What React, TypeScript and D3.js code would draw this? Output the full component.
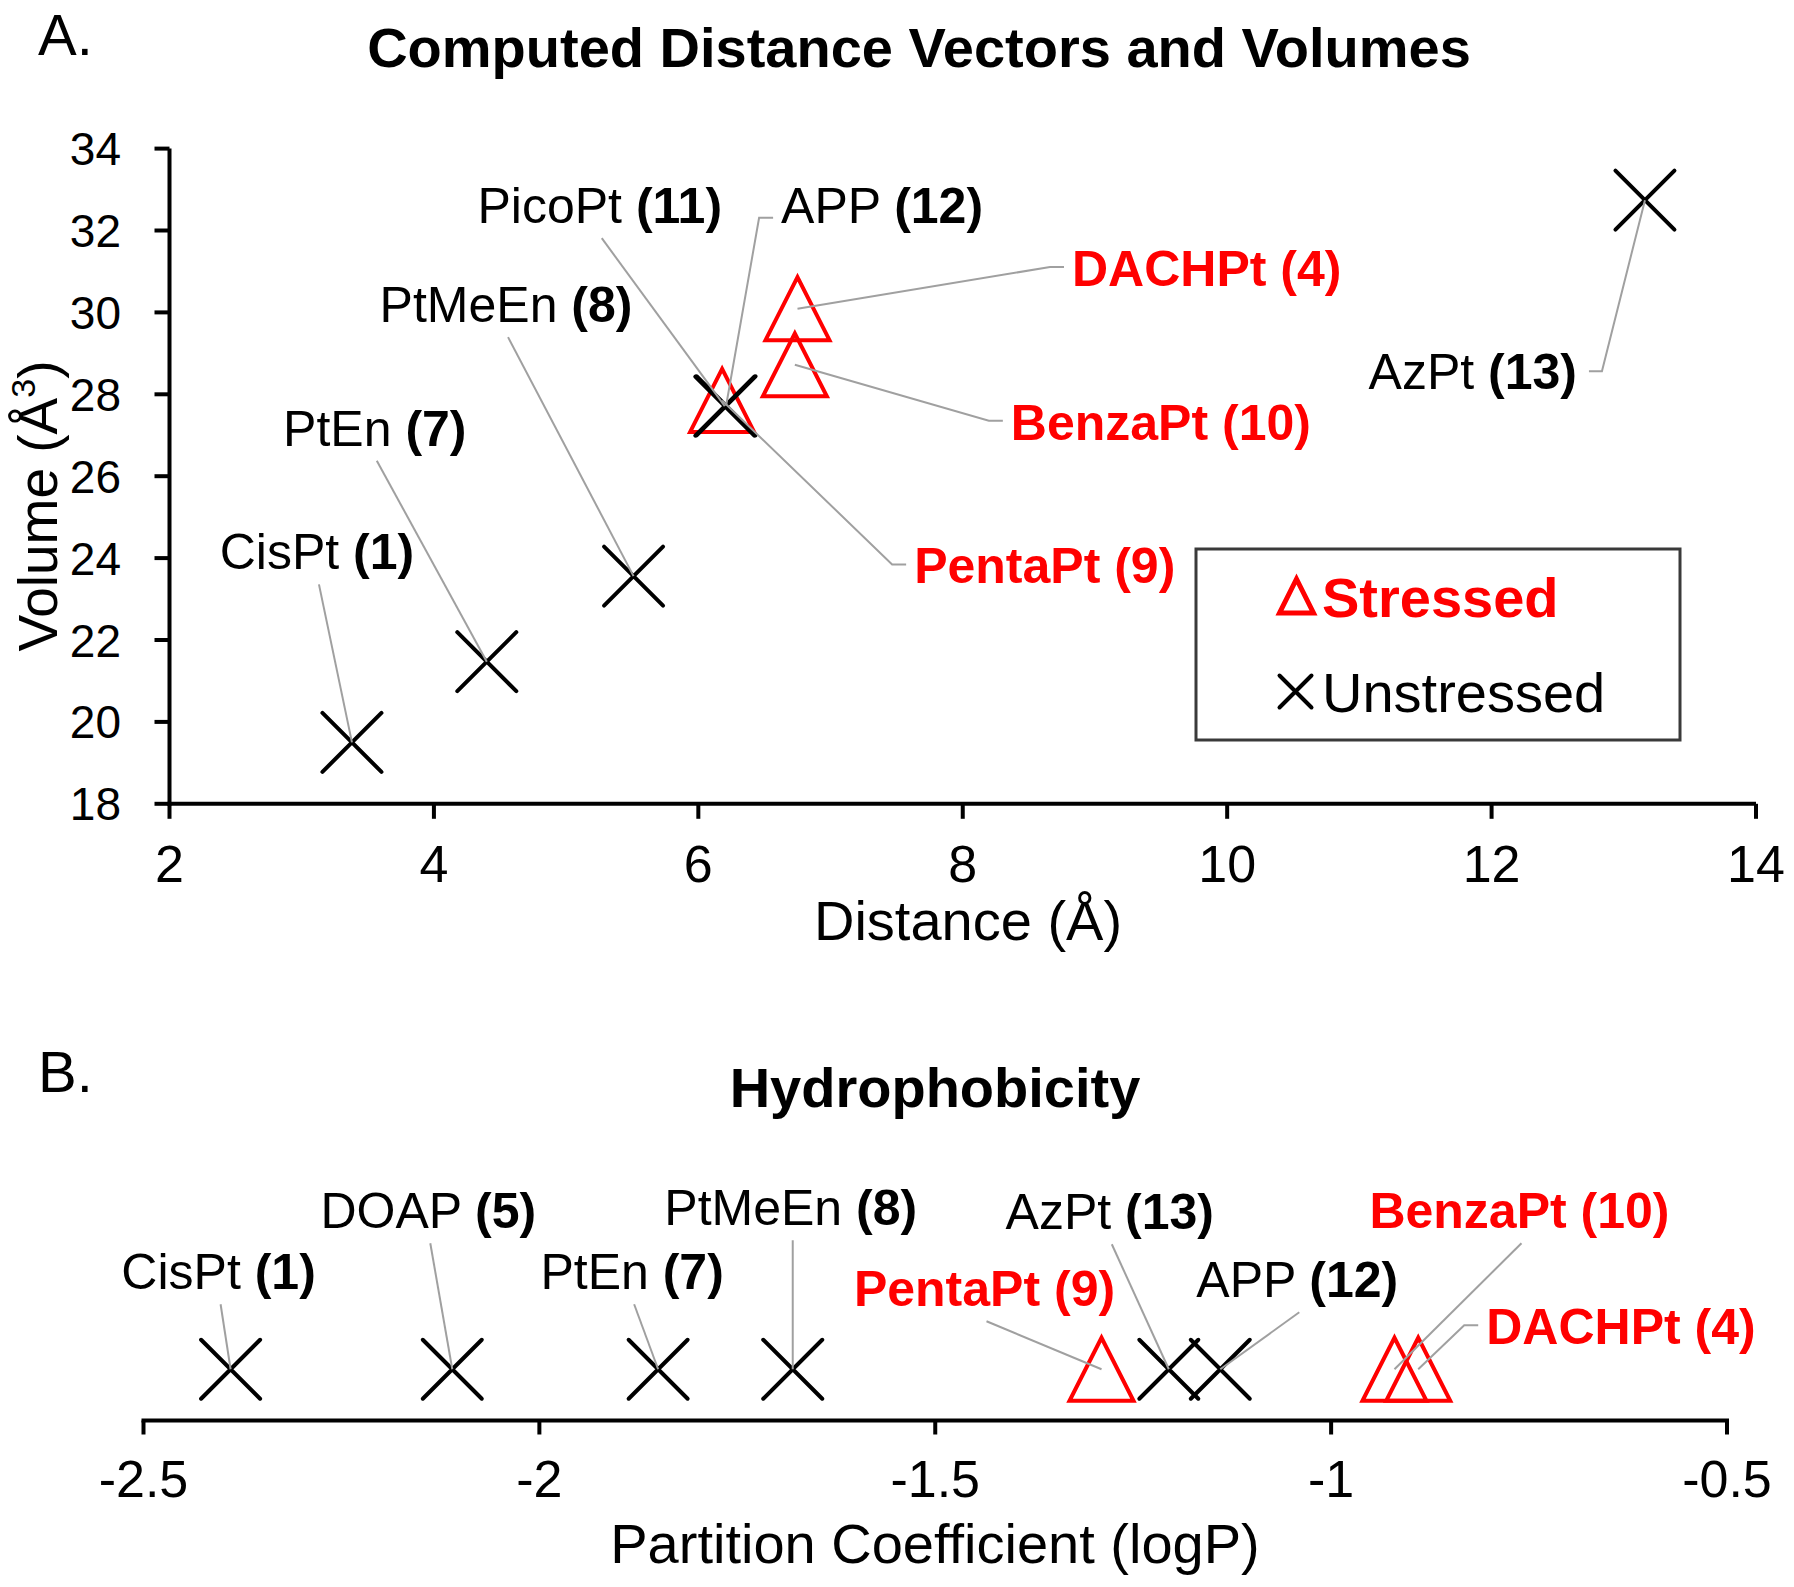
import React from "react";
import * as d3 from "d3";

// ---------- Panel A data ----------
const namesA = ["CisPt", "PtEn", "PtMeEn", "PicoPt", "APP", "PentaPt", "DACHPt", "BenzaPt", "AzPt"];
const numbersA = [1, 7, 8, 11, 12, 9, 4, 10, 13];
const distanceA = [3.38, 4.4, 5.51, 6.2, 6.21, 6.18, 6.75, 6.73, 13.16];
const volumeA = [19.5, 21.47, 23.56, 27.71, 27.72, 27.85, 30.09, 28.72, 32.74];
const stressedA = [false, false, false, false, false, true, true, true, false];
const xTicksA = [2, 4, 6, 8, 10, 12, 14];
const yTicksA = [18, 20, 22, 24, 26, 28, 30, 32, 34];

// ---------- Panel B data ----------
const namesB = ["CisPt", "DOAP", "PtEn", "PtMeEn", "PentaPt", "AzPt", "APP", "BenzaPt", "DACHPt"];
const numbersB = [1, 5, 7, 8, 9, 13, 12, 10, 4];
const logP = [-2.39, -2.11, -1.85, -1.68, -1.29, -1.205, -1.14, -0.92, -0.89];
const stressedB = [false, false, false, false, true, false, false, true, true];
const xTicksB = [-2.5, -2, -1.5, -1, -0.5];

// ---------- label layout (pixel offsets from the point) ----------
type Attach = "bottom" | "left" | "right";
const labelLayoutA: { dx: number; dy: number; attach: Attach; ly?: number }[] = [
  { dx: -35, dy: -173, attach: "bottom" },
  { dx: -112, dy: -216, attach: "bottom" },
  { dx: -127.5, dy: -254, attach: "bottom" },
  { dx: -125, dy: -183, attach: "bottom" },
  { dx: 55, dy: -183, attach: "left", ly: 5 },
  { dx: 192, dy: 183, attach: "left" },
  { dx: 274.5, dy: -22.7, attach: "left" },
  { dx: 216, dy: 75, attach: "left" },
  { dx: -68, dy: 189, attach: "right" },
];
const labelLayoutB: { dx: number; dy: number; attach: Attach; ly?: number }[] = [
  { dx: -12, dy: -80, attach: "bottom" },
  { dx: -24, dy: -141, attach: "bottom" },
  { dx: -26, dy: -80, attach: "bottom" },
  { dx: -2, dy: -144, attach: "bottom" },
  { dx: -117, dy: -63, attach: "bottom" },
  { dx: -59, dy: -140, attach: "bottom" },
  { dx: 77, dy: -72, attach: "bottom" },
  { dx: 125, dy: -141, attach: "bottom" },
  { dx: 68, dy: -25, attach: "left" },
];

const FONT = "'Liberation Sans', Arial, Helvetica, sans-serif";
const RED = "#ff0000";
const LEADER = "#a0a0a0";
const LABEL_FS = 50;

const xPath = (h: number) => `M${-h},${-h}L${h},${h}M${-h},${h}L${h},${-h}`;
const triPath = (w: number, h: number) => `M0,${-h}L${w},${h}L${-w},${h}Z`;

function Marker({ x, y, stressed }: { x: number; y: number; stressed: boolean }) {
  return stressed ? (
    <path d={triPath(32, 31.5)} transform={`translate(${x},${y})`} fill="none" stroke={RED} strokeWidth={4} strokeLinejoin="miter" />
  ) : (
    <path d={xPath(29.5)} transform={`translate(${x},${y})`} fill="none" stroke="#000" strokeWidth={4} strokeLinecap="round" />
  );
}

function Label({
  px, py, name, num, stressed, layout,
}: {
  px: number; py: number; name: string; num: number; stressed: boolean;
  layout: { dx: number; dy: number; attach: Attach; ly?: number };
}) {
  const tx = px + layout.dx;
  const ty = py + layout.dy;
  const anchor = layout.attach === "bottom" ? "middle" : layout.attach === "left" ? "start" : "end";
  const ly = layout.ly ?? 19;
  let pts: [number, number][];
  if (layout.attach === "bottom") {
    pts = [[tx + 2, ty + 15], [px, py]];
  } else if (layout.attach === "left") {
    pts = [[tx - 8, ty - ly], [tx - 22, ty - ly], [px, py]];
  } else {
    pts = [[tx + 12, ty - 18], [tx + 25, ty - 18], [px, py]];
  }
  const line = d3.line()(pts) || "";
  return (
    <g>
      <path d={line} fill="none" stroke={LEADER} strokeWidth={2} />
      <text x={tx} y={ty} textAnchor={anchor} fontSize={LABEL_FS} fill={stressed ? RED : "#000"} fontWeight={stressed ? "bold" : "normal"}>
        <tspan>{name + " "}</tspan>
        <tspan fontWeight="bold">{`(${num})`}</tspan>
      </text>
    </g>
  );
}

export default function App() {
  const xA = d3.scaleLinear().domain([2, 14]).range([169.5, 1756]);
  const yA = d3.scaleLinear().domain([18, 34]).range([803.8, 148.6]);
  const xB = d3.scaleLinear().domain([-2.5, -0.5]).range([143.5, 1727]);
  const yB = d3.scaleLinear().domain([0, 1]).range([1420.5, 1318]);
  const rowB = 0.5;

  const idxA = d3.range(namesA.length);
  const idxB = d3.range(namesB.length);
  const orderA = [...idxA.filter((i) => stressedA[i]), ...idxA.filter((i) => !stressedA[i])];
  const orderB = [...idxB.filter((i) => stressedB[i]), ...idxB.filter((i) => !stressedB[i])];

  const ax0 = xA.range()[0];
  const ax1 = xA.range()[1];
  const ay0 = yA.range()[0];
  const ay1 = yA.range()[1];
  const bx0 = xB.range()[0];
  const bx1 = xB.range()[1];
  const by0 = yB(0);

  return (
    <svg width={1794} height={1587} style={{ position: "absolute", left: 0, top: 0, background: "#fff" }} fontFamily={FONT}>
      <rect x={0} y={0} width={1794} height={1587} fill="#fff" />

      {/* ================= Panel A ================= */}
      <text x={38} y={55} fontSize={58}>A.</text>
      <text x={919} y={67} fontSize={56} fontWeight="bold" textAnchor="middle">
        Computed Distance Vectors and Volumes
      </text>

      {/* axes */}
      <g stroke="#000" strokeWidth={4} fill="none">
        <line x1={ax0} y1={ay1} x2={ax0} y2={ay0 + 2} />
        <line x1={ax0 - 2} y1={ay0} x2={ax1} y2={ay0} />
        {yTicksA.map((t) => (
          <line key={"ya" + t} x1={ax0 - 15} x2={ax0} y1={yA(t)} y2={yA(t)} />
        ))}
        {xTicksA.map((t) => (
          <line key={"xa" + t} x1={xA(t)} x2={xA(t)} y1={ay0} y2={ay0 + 15} />
        ))}
      </g>
      {yTicksA.map((t) => (
        <text key={"yal" + t} x={121} y={yA(t) + 16.5} fontSize={46} textAnchor="end">
          {t}
        </text>
      ))}
      {xTicksA.map((t) => (
        <text key={"xal" + t} x={xA(t)} y={882} fontSize={52} textAnchor="middle">
          {t}
        </text>
      ))}
      <text x={968} y={940} fontSize={56} textAnchor="middle">
        Distance (Å)
      </text>
      <text transform="translate(57,506) rotate(-90)" fontSize={55} textAnchor="middle">
        <tspan>Volume (Å</tspan>
        <tspan fontSize={34} dy={-22}>3</tspan>
        <tspan dy={22}>)</tspan>
      </text>

      {/* markers A */}
      {orderA.map((i) => (
        <Marker key={"ma" + i} x={xA(distanceA[i])} y={yA(volumeA[i])} stressed={stressedA[i]} />
      ))}
      {/* labels A */}
      {idxA.map((i) => (
        <Label
          key={"la" + i}
          px={xA(distanceA[i])}
          py={yA(volumeA[i])}
          name={namesA[i]}
          num={numbersA[i]}
          stressed={stressedA[i]}
          layout={labelLayoutA[i]}
        />
      ))}

      {/* legend */}
      <rect x={1196} y={549} width={484} height={191} fill="#fff" stroke="#3a3a3a" strokeWidth={3} />
      <path d={triPath(17, 17)} transform="translate(1296.5,596)" fill="none" stroke={RED} strokeWidth={5} strokeLinejoin="miter" />
      <text x={1322} y={616.5} fontSize={56} fontWeight="bold" fill={RED}>Stressed</text>
      <path d={xPath(16)} transform="translate(1295.5,691.5)" fill="none" stroke="#000" strokeWidth={4} strokeLinecap="round" />
      <text x={1322} y={711.5} fontSize={56}>Unstressed</text>

      {/* ================= Panel B ================= */}
      <text x={38} y={1092} fontSize={58}>B.</text>
      <text x={935} y={1107} fontSize={56} fontWeight="bold" textAnchor="middle">
        Hydrophobicity
      </text>
      <g stroke="#000" strokeWidth={4} fill="none">
        <line x1={bx0 - 2} y1={by0} x2={bx1 + 2} y2={by0} />
        {xTicksB.map((t) => (
          <line key={"xb" + t} x1={xB(t)} x2={xB(t)} y1={by0} y2={by0 + 14} />
        ))}
      </g>
      {xTicksB.map((t) => (
        <text key={"xbl" + t} x={xB(t)} y={1497} fontSize={52} textAnchor="middle">
          {String(t)}
        </text>
      ))}
      <text x={935} y={1563} fontSize={56} textAnchor="middle">
        Partition Coefficient (logP)
      </text>

      {orderB.map((i) => (
        <Marker key={"mb" + i} x={xB(logP[i])} y={yB(rowB)} stressed={stressedB[i]} />
      ))}
      {idxB.map((i) => (
        <Label
          key={"lb" + i}
          px={xB(logP[i])}
          py={yB(rowB)}
          name={namesB[i]}
          num={numbersB[i]}
          stressed={stressedB[i]}
          layout={labelLayoutB[i]}
        />
      ))}
    </svg>
  );
}
